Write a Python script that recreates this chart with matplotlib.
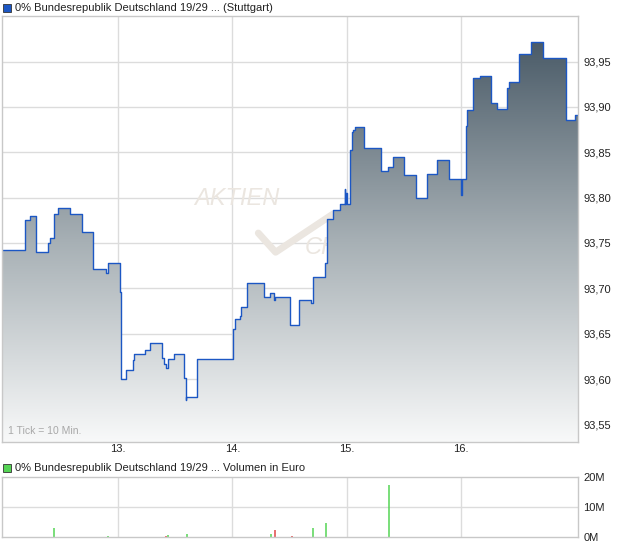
import numpy as np
import matplotlib
matplotlib.use('Agg')
import matplotlib.pyplot as plt
from matplotlib.colors import LinearSegmentedColormap
from matplotlib.patches import Rectangle

plt.rcParams['font.family'] = ['Liberation Sans', 'DejaVu Sans']

# price ticks (x = fractional trading day, step values)
tick_day = [11.985, 12.186, 12.230, 12.283, 12.388, 12.405, 12.440, 12.475, 12.580, 12.685,
            12.781, 12.895, 12.912, 13.017, 13.024, 13.026, 13.070, 13.127, 13.143, 13.236,
            13.280, 13.381, 13.402, 13.424, 13.437, 13.490, 13.577, 13.591, 13.599, 13.687,
            14.009, 14.024, 14.067, 14.076, 14.129, 14.277, 14.330, 14.361, 14.378, 14.509,
            14.588, 14.689, 14.706, 14.811, 14.826, 14.881, 14.942, 14.982, 14.989, 14.997,
            15.004, 15.027, 15.047, 15.056, 15.073, 15.152, 15.298, 15.362, 15.409, 15.502,
            15.605, 15.701, 15.706, 15.794, 15.896, 15.997, 16.010, 16.042, 16.051, 16.103,
            16.167, 16.261, 16.313, 16.401, 16.424, 16.511, 16.614, 16.721, 16.917, 17.003,
            17.025]
price = [93.742, 93.775, 93.780, 93.740, 93.750, 93.756, 93.782, 93.789, 93.782, 93.762,
         93.721, 93.717, 93.728, 93.696, 93.632, 93.600, 93.610, 93.621, 93.628, 93.632,
         93.640, 93.623, 93.617, 93.612, 93.622, 93.628, 93.601, 93.577, 93.580, 93.622,
         93.655, 93.666, 93.669, 93.680, 93.706, 93.691, 93.695, 93.687, 93.691, 93.660,
         93.687, 93.684, 93.712, 93.728, 93.777, 93.786, 93.793, 93.809, 93.793, 93.805,
         93.793, 93.853, 93.872, 93.875, 93.878, 93.855, 93.829, 93.834, 93.845, 93.825,
         93.800, 93.820, 93.826, 93.842, 93.821, 93.803, 93.821, 93.879, 93.897, 93.932,
         93.934, 93.904, 93.898, 93.921, 93.928, 93.958, 93.972, 93.954, 93.886, 93.891,
         93.891]

# volume (Euro)
vol_day = [12.436, 12.911, 13.416, 13.434, 13.600, 14.335, 14.370, 14.519, 14.706, 14.817, 15.371]
vol_val = [2.9e6, 0.45e6, 0.45e6, 0.7e6, 1.0e6, 1.1e6, 2.2e6, 0.35e6, 2.9e6, 4.8e6, 17.4e6]
vol_up = [True, True, False, True, True, True, False, False, True, True, True]

day_ticks = [13, 14, 15, 16]
day_labels = ['13.', '14.', '15.', '16.']
price_ticks = [93.55, 93.60, 93.65, 93.70, 93.75, 93.80, 93.85, 93.90, 93.95]
vol_ticks = [0, 10e6, 20e6]
vol_labels = ['0M', '10M', '20M']

xmin, xmax = 11.985, 17.025
ymin, ymax = 93.5311, 94.0002
grid_c = '#dcdcdc'
spine_c = '#c8c8c8'
line_c = '#1c57c4'

fig = plt.figure(figsize=(6.2, 5.46), dpi=100)
ax = fig.add_axes([2 / 620, 1 - 441.6 / 546, 576 / 620, 425.6 / 546])
axv = fig.add_axes([2 / 620, 1 - 537 / 546, 576 / 620, 60 / 546])

# main price panel
ax.set_xlim(xmin, xmax)
ax.set_ylim(ymin, ymax)
for d in day_ticks:
    ax.axvline(d, color=grid_c, lw=1, zorder=0)
for p in price_ticks:
    ax.axhline(p, color=grid_c, lw=1, zorder=0)

# watermark
ax.text(0.333, 0.555, 'AKTIEN', transform=ax.transAxes, fontsize=17, style='italic',
        color='#ebe6e0', zorder=0.5)
ax.plot([0.445, 0.475, 0.575], [0.49, 0.445, 0.535], transform=ax.transAxes,
        color='#ebe6e0', lw=5, solid_capstyle='round', zorder=0.5)
ax.text(0.525, 0.44, 'CHECK', transform=ax.transAxes, fontsize=17, style='italic',
        color='#ebe6e0', zorder=0.5)

poly = ax.fill_between(tick_day, price, ymin, step='post', color='none', lw=0)
cmap = LinearSegmentedColormap.from_list('fill', ['#485966', '#a6afb4', '#f8f9f9'])
grad = np.linspace(0, 1, 256).reshape(-1, 1)
im = ax.imshow(grad, cmap=cmap, aspect='auto', extent=[xmin, xmax, ymin, 93.978],
               origin='upper', zorder=1)
im.set_clip_path(poly.get_paths()[0], transform=ax.transData)
ax.plot(tick_day, price, drawstyle='steps-post', color=line_c, lw=1.0, zorder=2)

ax.text(0.011, 0.012, '1 Tick = 10 Min.', transform=ax.transAxes, fontsize=7.5,
        color='#a8a8a8', va='bottom')

ax.set_xticks(day_ticks)
ax.set_xticklabels(day_labels)
ax.set_yticks(price_ticks)
ax.set_yticklabels([f'{p:.2f}'.replace('.', ',') for p in price_ticks])
ax.yaxis.tick_right()
ax.tick_params(length=0, labelsize=8, colors='#222222', pad=4)
ax.tick_params(axis='x', pad=2)
for s in ax.spines.values():
    s.set_color(spine_c)
    s.set_linewidth(1)

# volume panel
axv.set_xlim(xmin, xmax)
axv.set_ylim(0, 20e6)
for d in day_ticks:
    axv.axvline(d, color=grid_c, lw=1, zorder=0)
axv.axhline(10e6, color=grid_c, lw=1, zorder=0)
vcol = ['#55d455' if u else '#e04848' for u in vol_up]
axv.vlines(vol_day, 0, vol_val, colors=vcol, lw=1.1, zorder=2)
axv.set_xticks([])
axv.set_yticks(vol_ticks)
axv.set_yticklabels(vol_labels)
axv.yaxis.tick_right()
axv.tick_params(length=0, labelsize=8, colors='#222222', pad=4)
for s in axv.spines.values():
    s.set_color(spine_c)
    s.set_linewidth(1)

# legend-style titles
fig.patches.append(Rectangle((3 / 620, 1 - 12 / 546), 8 / 620, 8 / 546, transform=fig.transFigure,
                             facecolor=line_c, edgecolor='#333333', lw=0.6))
fig.text(15 / 620, 1 - 8 / 546, '0% Bundesrepublik Deutschland 19/29 ... (Stuttgart)',
         fontsize=8, va='center', color='#222222')
fig.patches.append(Rectangle((3 / 620, 1 - 472 / 546), 8 / 620, 8 / 546, transform=fig.transFigure,
                             facecolor='#55d455', edgecolor='#333333', lw=0.6))
fig.text(15 / 620, 1 - 468 / 546, '0% Bundesrepublik Deutschland 19/29 ... Volumen in Euro',
         fontsize=8, va='center', color='#222222')

fig.savefig('out.png', dpi=100)
